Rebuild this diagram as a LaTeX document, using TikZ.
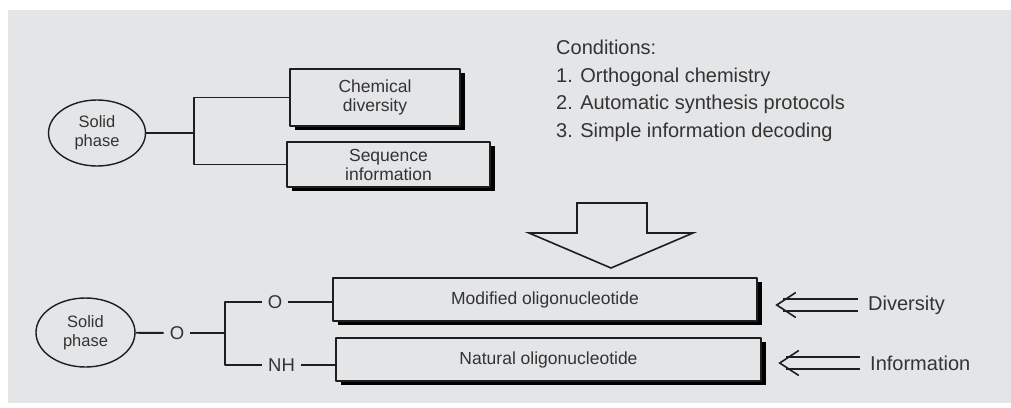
\documentclass[tikz,border=0pt]{standalone}
\usepackage{fontspec}
\setmainfont{Liberation Sans}
\usetikzlibrary{shapes.geometric,shadows,calc}

\begin{document}
\begin{tikzpicture}[x=1pt, y=-1pt, line join=round,
  link/.style={draw=inkline, line width=1.9pt},
  solidphase/.style={ellipse, draw=inkline, line width=1.4pt, minimum width=97pt, minimum height=66pt, inner sep=0pt, align=center, text=inktext, font=\fontsize{16.5}{19}\selectfont},
  libbox/.style={rectangle, draw=inkline, line width=1.5pt, fill=panel, inner sep=0pt, align=center, text=inktext, font=\fontsize{17.5}{19}\selectfont, drop shadow={shadow xshift=5pt, shadow yshift=-4pt, fill=black, opacity=1}},
  atom/.style={inner sep=6pt, text=inktext, font=\fontsize{18.5}{20}\selectfont},
  tag/.style={inner sep=0pt, anchor=west, text=inktext, font=\fontsize{20}{24}\selectfont},
  feed/.style={draw=inkline, line width=1.6pt, double=panel, double distance=10pt, shorten <=10pt, shorten >=6pt},
  barb/.style={draw=inkline, line width=1.6pt, line join=miter}]
  \definecolor{panel}{RGB}{228,229,231}
  \definecolor{inkline}{RGB}{30,30,30}
  \definecolor{inktext}{RGB}{51,51,51}
  \useasboundingbox (0,0) rectangle (1011,407);
  \fill[panel] (8,10) rectangle (1011,403);

  \node[solidphase] (sp1) at (97,133) {Solid\\phase};
  \node[libbox, minimum width=170pt, minimum height=57pt] (chem) at (375,97.5) {Chemical\\diversity};
  \node[libbox, minimum width=203pt, minimum height=45pt] (seq) at (388.5,164.5) {Sequence\\information};
  \coordinate (fork1) at (194,133);
  \draw[link] (sp1) -- (fork1);
  \draw[link] (chem.west) -| (fork1) |- (seq.west);

  \node[anchor=north west, inner sep=0pt, align=left, text=inktext, font=\fontsize{20}{27.5}\selectfont] (cond) at (556,40)
    {Conditions:\\1. Orthogonal chemistry\\2. Automatic synthesis protocols\\3. Simple information decoding};

  \draw[inkline, line width=1.6pt, line join=miter] (577,203) -- (647,203) -- (647,233) -- (693,233) -- (611,268) -- (529,233) -- (577,233) -- cycle;

  \node[solidphase, minimum width=99pt, minimum height=69pt] (sp2) at (85.5,332.5) {Solid\\phase};
  \node[atom] (ether) at (177,333) {O};
  \coordinate (fork2) at (225,333);
  \node[atom] (oxy) at (275,302) {O};
  \node[atom] (amine) at (281.5,365) {NH};
  \node[libbox, minimum width=424pt, minimum height=43pt] (modnuc) at (545,299.5) {Modified oligonucleotide};
  \node[libbox, minimum width=425pt, minimum height=43pt] (natnuc) at (548.5,359.5) {Natural oligonucleotide};
  \draw[link] (sp2) -- (ether);
  \draw[link] (ether) -- (fork2);
  \draw[link] (oxy) -| (fork2) |- (amine);
  \draw[link] (oxy) -- (oxy -| modnuc.west);
  \draw[link] (amine) -- (amine -| natnuc.west);

  \node[tag] (div) at (868,305) {Diversity};
  \node[tag] (info) at (870,363) {Information};
  \coordinate (divtip) at ($(div.west -| modnuc.east)+(19,0)$);
  \coordinate (infotip) at ($(info.west -| natnuc.east)+(18,0)$);
  \draw[feed] (div.west) -- (divtip);
  \draw[feed] (info.west) -- (infotip);
  \draw[barb] ($(divtip)+(19,-12.5)$) -- (divtip) -- ($(divtip)+(19,12.5)$);
  \draw[barb] ($(infotip)+(19,-12.5)$) -- (infotip) -- ($(infotip)+(19,12.5)$);
\end{tikzpicture}
\end{document}
